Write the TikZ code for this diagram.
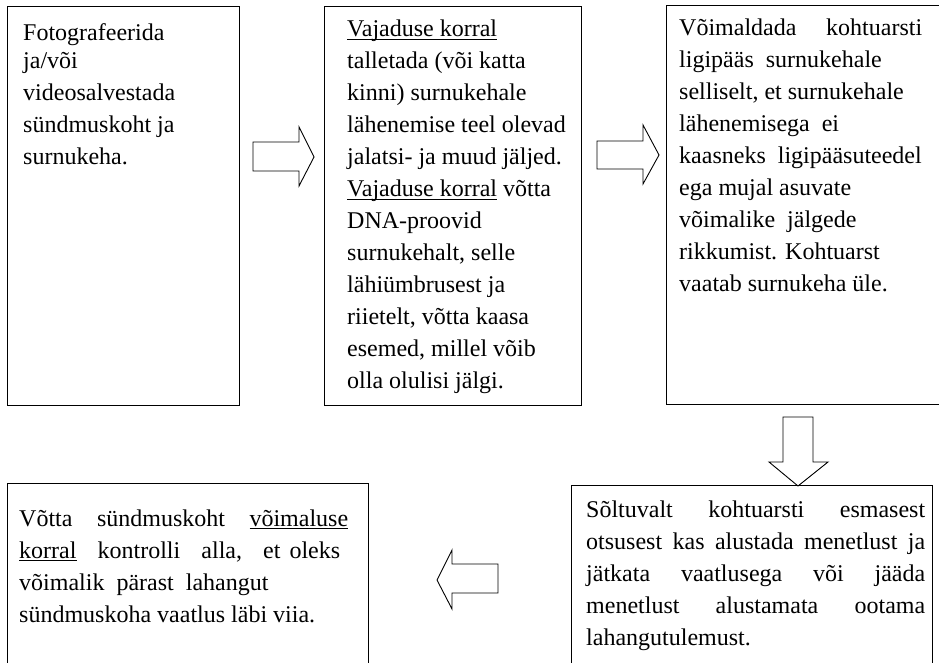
\documentclass[tikz,border=0pt]{standalone}
\usepackage{fontspec}
\setmainfont{Liberation Serif}
\newsavebox{\ulbox}
\newcommand{\myul}[1]{\leavevmode\sbox{\ulbox}{#1}\rlap{\rule[-3pt]{\wd\ulbox}{1pt}}\usebox{\ulbox}}
\begin{document}
\begin{tikzpicture}[x=1pt,y=-1pt,
  box/.style={draw=black, line width=1.1pt, inner sep=0pt, anchor=north west},
  txt/.style={inner sep=0pt, anchor=base west, font=\fontsize{24pt}{32pt}\selectfont},
  blockarrow/.style={draw=black, line width=0.9pt, fill=white, line join=miter}]
\useasboundingbox (0,0) rectangle (939,663);
% boxes
\node[box, minimum width=232pt, minimum height=399pt] (b1) at (7,6) {};
\node[box, minimum width=257pt, minimum height=399pt] (b2) at (324,6) {};
\node[box, minimum width=330pt, minimum height=399pt] (b3) at (666,5) {};
\node[box, minimum width=361pt, minimum height=240pt] (b5) at (7,483) {};
\node[box, minimum width=361pt, minimum height=240pt] (b4) at (571,485) {};
% texts
\node[txt] (t1) at (23,41) {\parbox[t]{212pt}{\raggedright
Fotografeerida\\[-4pt]
ja/või\\
videosalvestada\\
sündmuskoht ja\\
surnukeha.}};
\node[txt] (t2) at (347,37) {\parbox[t]{230pt}{\raggedright
\myul{Vajaduse korral}\\
talletada (või katta\\
kinni) surnukehale\\
lähenemise teel olevad\\
jalatsi- ja muud jäljed.\\
\myul{Vajaduse korral} võtta\\
DNA-proovid\\
surnukehalt, selle\\
lähiümbrusest ja\\
riietelt, võtta kaasa\\
esemed, millel võib\\
olla olulisi jälgi.}};
\node[txt] (t3) at (679,36) {\parbox[t]{243pt}{\raggedright
\makebox[243pt][s]{Võimaldada kohtuarsti}\\
ligipääs~ surnukehale\\
selliselt, et surnukehale\\
lähenemisega~ ei\\
kaasneks~ ligipääsuteedel\\
ega mujal asuvate\\
võimalike~ jälgede\\
rikkumist. Kohtuarst\\
vaatab surnukeha üle.}};
\node[txt] (t4) at (586,517) {\parbox[t]{339pt}{\raggedright
\makebox[339pt][s]{Sõltuvalt kohtuarsti esmasest}\\
\makebox[339pt][s]{otsusest kas alustada menetlust ja}\\
\makebox[339pt][s]{jätkata vaatlusega või jääda}\\
\makebox[339pt][s]{menetlust alustamata ootama}\\
lahangutulemust.}};
\node[txt] (t5) at (19,526) {\parbox[t]{329pt}{\raggedright
\makebox[329pt][l]{Võtta\hfill sündmuskoht\hfill \myul{võimaluse}}\\
\makebox[321pt][l]{\myul{korral}\hfill kontrolli\hfill alla,\hfill et\hspace{9pt}oleks}\\
võimalik~ pärast~ lahangut\\
sündmuskoha vaatlus läbi viia.}};
% block arrows
\draw[blockarrow] (253,142) -- (299,142) -- (299,127) -- (314,157) -- (299,186) -- (299,171) -- (253,171) -- cycle;
\draw[blockarrow] (597,141) -- (643,141) -- (643,125) -- (659,155) -- (643,184) -- (643,169) -- (597,169) -- cycle;
\draw[blockarrow] (783,417) -- (813,417) -- (813,462) -- (828,462) -- (798,486) -- (769,462) -- (783,462) -- cycle;
\draw[blockarrow] (498,564) -- (498,593) -- (452,593) -- (452,609) -- (437,580) -- (452,550) -- (452,564) -- cycle;
\end{tikzpicture}
\end{document}
